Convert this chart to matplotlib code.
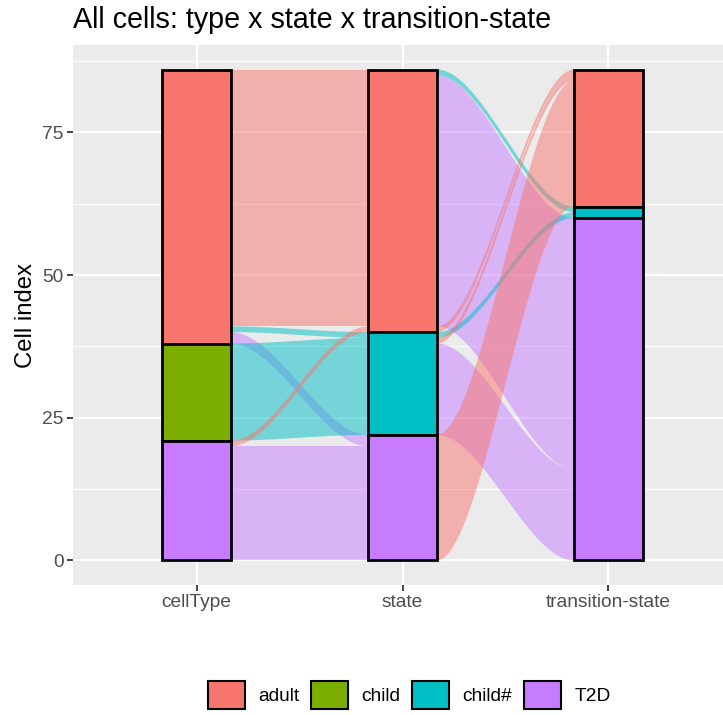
import matplotlib

matplotlib.use("Agg")
import matplotlib.pyplot as plt
import numpy as np
from matplotlib.patches import Patch, Polygon

plt.rcParams["font.family"] = ["Liberation Sans", "DejaVu Sans"]

# data
axis_names = ["cellType", "state", "transition-state"]
levels = ["adult", "child", "child#", "T2D"]  # top to bottom
level_colors = {"adult": "#F8766D", "child": "#7CAE00", "child#": "#00BFC4", "T2D": "#C77CFF"}

cell_type_counts = {"adult": 48, "child": 17, "T2D": 21}
state_counts = {"adult": 46, "child#": 18, "T2D": 22}
transition_counts = {"adult": 24, "child#": 2, "T2D": 60}

# (from, to, cells), listed top-down within each source stratum
flows_type_state = [
    ("adult", "adult", 45), ("adult", "child#", 1), ("adult", "T2D", 2),
    ("child", "child#", 17),
    ("T2D", "adult", 1), ("T2D", "T2D", 20),
]
flows_state_transition = [
    ("adult", "child#", 1), ("adult", "T2D", 44), ("adult", "adult", 1),
    ("child#", "child#", 1), ("child#", "adult", 1), ("child#", "T2D", 16),
    ("T2D", "adult", 22),
]

strata = [cell_type_counts, state_counts, transition_counts]
flow_sets = [flows_type_state, flows_state_transition]
WIDTH = 1 / 3


def _stack(counts):
    # returns {level: (bottom, top)} stacked with first level on top
    spans = {}
    top = sum(counts.values())
    for lev in levels:
        if lev in counts:
            spans[lev] = (top - counts[lev], top)
            top -= counts[lev]
    return spans


def _sigmoid(t):
    return t * t * (3 - 2 * t)


def _draw_flows(ax, x0, flows, left_spans, right_spans):
    left_cursor = {k: v[1] for k, v in left_spans.items()}
    left_pos = []
    for src, dst, n in flows:
        top = left_cursor[src]
        left_pos.append((top - n, top))
        left_cursor[src] = top - n
    right_cursor = {k: v[1] for k, v in right_spans.items()}
    right_pos = [None] * len(flows)
    order = sorted(range(len(flows)), key=lambda i: (levels.index(flows[i][1]), levels.index(flows[i][0])))
    for i in order:
        dst, n = flows[i][1], flows[i][2]
        top = right_cursor[dst]
        right_pos[i] = (top - n, top)
        right_cursor[dst] = top - n
    xa, xb = x0 + WIDTH / 2, x0 + 1 - WIDTH / 2
    t = np.linspace(0, 1, 80)
    s = _sigmoid(t)
    xs = xa + (xb - xa) * t
    for (src, dst, n), (l0, l1), (r0, r1) in zip(flows, left_pos, right_pos):
        upper = l1 + (r1 - l1) * s
        lower = l0 + (r0 - l0) * s
        pts = np.vstack([np.column_stack([xs, upper]), np.column_stack([xs[::-1], lower[::-1]])])
        ax.add_patch(Polygon(pts, closed=True, facecolor=level_colors[dst], edgecolor="none", alpha=0.5, zorder=2))


fig = plt.figure(figsize=(7.23, 7.15), dpi=100)
ax = fig.add_axes([73 / 723, 130 / 715, 659 / 723, 540 / 715])
ax.set_facecolor("#EBEBEB")
for sp in ax.spines.values():
    sp.set_visible(False)

spans = [_stack(c) for c in strata]
for i, flows in enumerate(flow_sets):
    _draw_flows(ax, i + 1, flows, spans[i], spans[i + 1])

for i, sp in enumerate(spans):
    for lev, (b, t) in sp.items():
        ax.bar(i + 1, t - b, bottom=b, width=WIDTH, color=level_colors[lev],
               edgecolor="black", linewidth=2.0, zorder=3)

ax.set_xlim(0.4, 3.6)
ax.set_ylim(-4.3, 90.3)
ax.set_xticks([1, 2, 3])
ax.set_xticklabels(axis_names)
ax.set_yticks([0, 25, 50, 75])
ax.set_yticks([12.5, 37.5, 62.5, 87.5], minor=True)
ax.grid(which="major", color="white", linewidth=1.6, zorder=0)
ax.grid(which="minor", axis="y", color="white", linewidth=0.8, zorder=0)
ax.set_axisbelow(True)
ax.tick_params(which="major", length=4.3, width=1.3, color="#333333", labelcolor="#4D4D4D",
               labelsize=13.8, pad=2.5)
ax.tick_params(which="minor", length=0)
ax.set_ylabel("Cell index", fontsize=17.2, color="black")
ax.yaxis.set_label_coords(-0.055, 0.5)
ax.set_title("All cells: type x state x transition-state", loc="left", fontsize=20.7, pad=12)

handles = [Patch(facecolor=level_colors[l], edgecolor="black", linewidth=1.5, label=l) for l in levels]
fig.legend(handles=handles, loc="center", bbox_to_anchor=(0.566, 0.028), ncol=4, frameon=False,
           fontsize=13.8, handlelength=1.93, handleheight=1.82, handletextpad=0.68,
           columnspacing=0.63, borderpad=0)

fig.savefig("out.png", dpi=100)
